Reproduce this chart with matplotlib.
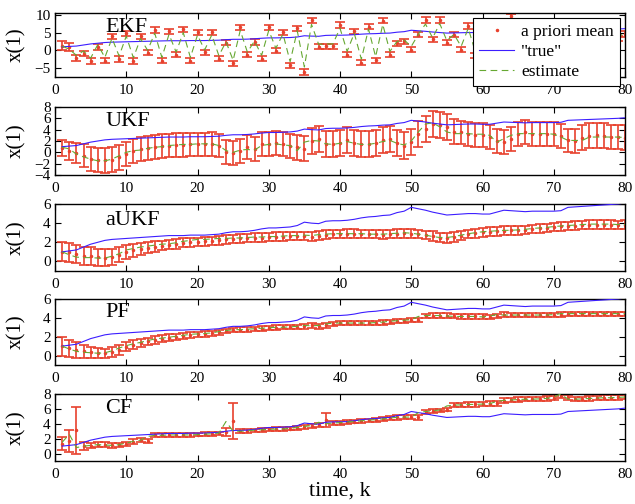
import numpy as np
import matplotlib
matplotlib.use('Agg')
import matplotlib.pyplot as plt
from matplotlib.lines import Line2D

plt.rcParams['font.family'] = ['Liberation Serif', 'DejaVu Serif']

RED = '#e8412d'
BLUE = '#3c1eff'
GREEN = '#66a832'

k = np.arange(1, 81)

# true state (same in every panel)
x_true = [1.0, 1.1, 1.2, 1.5, 1.8, 2.0, 2.2, 2.3, 2.35, 2.4,
          2.45, 2.5, 2.55, 2.6, 2.65, 2.7, 2.7, 2.7, 2.75, 2.75,
          2.75, 2.8, 2.85, 3.0, 3.1, 3.1, 3.15, 3.25, 3.4, 3.5,
          3.5, 3.55, 3.6, 3.75, 4.1, 4.0, 3.95, 4.2, 4.25, 4.25,
          4.3, 4.4, 4.55, 4.65, 4.7, 4.8, 4.85, 5.1, 5.25, 5.65,
          5.5, 5.35, 5.15, 5.0, 4.85, 4.9, 4.95, 5.0, 5.0, 4.95,
          4.95, 5.15, 5.35, 5.3, 5.25, 5.2, 5.25, 5.25, 5.25, 5.25,
          5.3, 5.65, 5.7, 5.75, 5.8, 5.85, 5.9, 5.95, 6.0, 6.1]

# EKF
ekf_mean = [1.3, 1.0, -2.1, -0.9, -3.0, 0.9, -2.9, 3.9, -2.4, 4.8,
            -3.0, 3.9, -0.7, 5.7, -2.9, 5.3, -1.2, 5.9, -2.9, 5.1,
            -0.6, 5.1, -2.3, 2.2, -3.7, 6.5, -1.2, 2.3, -2.3, 6.5,
            -0.1, 5.1, -4.2, 6.2, -6.1, 8.4, 1.0, 1.1, 1.1, 7.1,
            -1.2, 5.3, -3.5, 6.7, -2.8, 8.3, -1.2, 2.0, 2.5, 0.2,
            4.4, 8.5, 3.1, 8.5, 2.2, 4.4, 0.2, 6.8, -1.5, 7.2,
            0.5, 6.0, -2.0, 9.6, 1.5, 7.0, -0.5, 6.5, 2.0, 7.5,
            0.0, 8.0, 2.5, 6.5, 1.0, 7.5, 3.0, 4.4, 3.4, 4.6]
ekf_err = [1.3, 1.1, 0.8, 0.75, 0.75, 0.75, 0.75, 0.75, 0.75, 0.75,
           0.75, 0.75, 0.75, 0.75, 0.75, 0.75, 0.75, 0.75, 0.75, 0.75,
           0.75, 0.75, 0.75, 0.75, 0.75, 0.75, 0.75, 0.75, 0.75, 0.75,
           0.75, 0.75, 0.75, 0.75, 0.75, 0.75, 0.75, 0.75, 0.75, 0.75,
           0.75, 0.75, 0.75, 0.75, 0.75, 0.75, 0.75, 0.75, 0.75, 0.75,
           0.75, 0.75, 0.75, 0.75, 0.75, 0.75, 0.75, 0.75, 0.75, 0.75,
           0.75, 0.75, 0.75, 0.75, 0.75, 0.75, 0.75, 0.75, 0.75, 0.75,
           0.75, 0.75, 0.75, 0.75, 0.75, 0.75, 0.75, 0.75, 0.75, 0.75]
ekf_est = [1.2, 0.3, -1.4, -0.2, -2.2, 1.6, -2.0, 3.4, -1.6, 4.0,
           -2.1, 3.3, 0.0, 4.8, -2.0, 4.5, -0.5, 5.0, -2.0, 4.3,
           0.1, 4.3, -1.5, 2.4, -2.8, 5.6, -0.5, 2.6, -1.4, 5.6,
           0.6, 4.6, -3.2, 5.5, -4.7, 7.3, 1.7, 1.8, 1.8, 6.2,
           -0.3, 4.8, -2.5, 6.0, -1.8, 7.3, -0.3, 2.5, 2.9, 1.1,
           4.5, 7.4, 3.5, 7.5, 2.7, 4.5, 1.1, 6.2, -0.5, 6.6,
           1.3, 5.7, -1.0, 8.5, 2.2, 6.6, 0.5, 6.1, 2.7, 7.0,
           1.0, 7.3, 3.1, 6.2, 1.9, 7.0, 3.5, 4.6, 3.9, 4.8]

# UKF
ukf_mean = [0.8, 0.3, -0.1, -0.6, -1.2, -1.4, -1.4, -1.3, -0.9, -0.3,
            0.2, 0.6, 0.8, 1.0, 1.1, 1.2, 1.3, 1.3, 1.4, 1.4,
            1.4, 1.4, 1.2, 0.1, -0.1, 0.2, 0.9, 0.6, 1.4, 1.5,
            1.6, 1.4, 1.1, 0.9, 0.6, 2.0, 2.3, 1.5, 1.45, 1.7,
            2.1, 1.7, 1.4, 1.4, 1.6, 2.1, 2.4, 1.7, 1.2, 1.8,
            3.2, 4.1, 5.0, 4.8, 4.4, 3.6, 3.5, 3.2, 3.0, 3.0,
            2.7, 2.0, 1.8, 2.4, 3.3, 3.6, 3.3, 3.3, 3.3, 3.3,
            2.9, 2.1, 2.0, 2.6, 2.9, 3.0, 2.9, 2.7, 2.7, 2.6]
ukf_err = [1.4, 1.6, 1.8, 2.0, 2.1, 2.1, 2.2, 2.2, 2.2, 2.1,
           2.1, 2.1, 2.1, 2.1, 2.1, 2.05, 2.05, 2.05, 2.05, 2.05,
           2.05, 2.1, 2.1, 2.15, 2.15, 2.1, 2.1, 2.1, 2.1, 2.1,
           2.1, 2.1, 2.15, 2.2, 2.2, 2.3, 2.3, 2.3, 2.3, 2.3,
           2.3, 2.3, 2.3, 2.3, 2.3, 2.3, 2.3, 2.3, 2.3, 2.3,
           2.3, 2.3, 2.3, 2.3, 2.3, 2.2, 2.1, 2.1, 2.1, 2.1,
           2.1, 2.1, 2.1, 2.1, 2.1, 2.1, 2.1, 2.1, 2.1, 2.1,
           2.1, 2.1, 2.2, 2.2, 2.2, 2.2, 2.2, 2.2, 2.2, 2.2]
ukf_est = [0.9, 0.6, -0.3, -0.8, -1.2, -1.5, -1.5, -1.2, -0.6, 0.0,
           0.3, 0.4, 0.7, 0.9, 1.0, 1.2, 1.3, 1.4, 1.4, 1.5,
           1.5, 1.5, 1.2, 0.3, 0.0, 0.4, 0.5, 0.4, 1.2, 1.4,
           1.5, 1.3, 1.2, 0.3, 1.8, 2.1, 2.0, 1.5, 1.4, 1.6,
           1.9, 1.6, 1.4, 1.4, 1.6, 1.9, 2.1, 1.6, 1.3, 2.0,
           3.6, 5.0, 5.2, 4.5, 3.6, 3.3, 3.3, 3.3, 3.2, 3.2,
           3.0, 1.8, 2.4, 3.0, 3.3, 3.3, 3.3, 3.3, 3.3, 3.2,
           2.7, 2.1, 2.1, 2.1, 2.7, 2.7, 2.7, 2.7, 2.7, 2.6]

# aUKF
aukf_mean = [1.0, 0.95, 0.75, 0.6, 0.55, 0.45, 0.4, 0.45, 0.7, 1.0,
             1.15, 1.3, 1.45, 1.55, 1.65, 1.75, 1.85, 1.95, 2.0, 2.05,
             2.1, 2.15, 2.2, 2.3, 2.35, 2.4, 2.45, 2.5, 2.5, 2.55,
             2.6, 2.6, 2.65, 2.65, 2.65, 2.6, 2.7, 2.8, 2.85, 2.85,
             2.9, 2.9, 2.85, 2.85, 2.85, 2.8, 2.85, 2.9, 2.95, 2.9,
             2.85, 2.75, 2.65, 2.5, 2.45, 2.55, 2.7, 2.85, 2.95, 3.05,
             3.1, 3.15, 3.2, 3.25, 3.25, 3.3, 3.4, 3.45, 3.5, 3.6,
             3.65, 3.7, 3.75, 3.8, 3.85, 3.85, 3.85, 3.85, 3.8, 3.85]
aukf_err = [1.0, 1.0, 0.95, 0.95, 0.95, 0.9, 0.9, 0.85, 0.8, 0.7,
            0.65, 0.6, 0.55, 0.55, 0.5, 0.5, 0.5, 0.45, 0.45, 0.45,
            0.45, 0.45, 0.45, 0.45, 0.45, 0.45, 0.45, 0.45, 0.45, 0.45,
            0.45, 0.45, 0.45, 0.45, 0.45, 0.45, 0.45, 0.45, 0.45, 0.45,
            0.45, 0.45, 0.45, 0.45, 0.45, 0.45, 0.45, 0.45, 0.45, 0.45,
            0.45, 0.45, 0.5, 0.5, 0.5, 0.5, 0.45, 0.45, 0.45, 0.45,
            0.45, 0.45, 0.45, 0.45, 0.45, 0.45, 0.45, 0.45, 0.45, 0.45,
            0.45, 0.45, 0.45, 0.45, 0.45, 0.45, 0.45, 0.45, 0.45, 0.45]
aukf_est = [1.0, 0.7, 0.45, 0.4, 0.4, 0.35, 0.35, 0.55, 0.8, 1.2,
            1.35, 1.5, 1.6, 1.7, 1.8, 1.85, 1.95, 2.1, 2.2, 2.3,
            2.3, 2.35, 2.4, 2.4, 2.45, 2.45, 2.5, 2.55, 2.55, 2.6,
            2.6, 2.65, 2.7, 2.7, 2.75, 2.7, 2.8, 2.85, 2.9, 2.9,
            2.9, 2.9, 2.9, 2.85, 2.85, 2.85, 2.9, 2.95, 3.0, 2.95,
            2.85, 2.75, 2.6, 2.5, 2.5, 2.6, 2.75, 2.9, 3.0, 3.1,
            3.15, 3.2, 3.25, 3.25, 3.3, 3.35, 3.45, 3.5, 3.55, 3.65,
            3.7, 3.75, 3.8, 3.85, 3.9, 3.9, 3.9, 3.9, 3.85, 3.85]

# PF
pf_mean = [1.0, 0.8, 0.6, 0.45, 0.35, 0.3, 0.25, 0.4, 0.6, 0.95,
           1.15, 1.3, 1.5, 1.65, 1.8, 1.9, 2.0, 2.1, 2.2, 2.25,
           2.3, 2.35, 2.45, 2.6, 2.7, 2.75, 2.75, 2.8, 2.85, 2.9,
           2.95, 3.0, 3.0, 3.05, 3.1, 3.2, 3.1, 3.2, 3.35, 3.45,
           3.45, 3.45, 3.45, 3.45, 3.45, 3.5, 3.55, 3.65, 3.7, 3.75,
           3.8, 4.2, 4.25, 4.25, 4.25, 4.2, 4.15, 4.15, 4.15, 4.15,
           4.1, 4.2, 4.35, 4.3, 4.3, 4.3, 4.3, 4.3, 4.3, 4.3,
           4.35, 4.45, 4.45, 4.45, 4.45, 4.45, 4.45, 4.45, 4.45, 4.45]
pf_err = [1.0, 0.9, 0.85, 0.7, 0.6, 0.55, 0.5, 0.5, 0.5, 0.5,
          0.45, 0.42, 0.4, 0.38, 0.36, 0.34, 0.32, 0.3, 0.3, 0.28,
          0.28, 0.27, 0.26, 0.25, 0.25, 0.25, 0.24, 0.24, 0.24, 0.24,
          0.24, 0.23, 0.23, 0.23, 0.23, 0.23, 0.23, 0.23, 0.23, 0.23,
          0.23, 0.23, 0.23, 0.23, 0.23, 0.23, 0.23, 0.23, 0.23, 0.23,
          0.23, 0.23, 0.23, 0.23, 0.23, 0.23, 0.23, 0.23, 0.23, 0.23,
          0.22, 0.22, 0.22, 0.22, 0.22, 0.22, 0.22, 0.22, 0.22, 0.22,
          0.22, 0.22, 0.22, 0.22, 0.22, 0.22, 0.22, 0.22, 0.22, 0.22]
pf_est = [1.0, 0.7, 0.45, 0.35, 0.3, 0.25, 0.3, 0.5, 0.8, 1.05,
          1.25, 1.4, 1.6, 1.75, 1.85, 1.95, 2.05, 2.15, 2.25, 2.3,
          2.35, 2.4, 2.55, 2.65, 2.75, 2.75, 2.8, 2.85, 2.9, 2.95,
          3.0, 3.0, 3.05, 3.1, 3.2, 3.15, 3.2, 3.35, 3.45, 3.45,
          3.45, 3.45, 3.45, 3.45, 3.5, 3.55, 3.65, 3.7, 3.75, 3.8,
          4.15, 4.25, 4.25, 4.25, 4.2, 4.15, 4.15, 4.15, 4.15, 4.1,
          4.2, 4.35, 4.3, 4.3, 4.3, 4.3, 4.3, 4.3, 4.3, 4.35,
          4.45, 4.45, 4.45, 4.45, 4.45, 4.45, 4.45, 4.45, 4.45, 4.45]

# CF
cf_mean = [1.35, 1.7, 3.1, 1.0, 1.05, 1.2, 1.2, 1.1, 1.15, 1.3,
           1.6, 1.8, 1.7, 2.45, 2.45, 2.5, 2.5, 2.5, 2.5, 2.55,
           2.6, 2.65, 2.7, 2.9, 4.4, 3.0, 3.0, 3.1, 3.2, 3.25,
           3.3, 3.3, 3.35, 3.45, 3.6, 3.7, 3.8, 4.5, 4.1, 4.1,
           4.2, 4.3, 4.35, 4.45, 4.5, 4.6, 4.75, 4.85, 4.9, 4.9,
           4.85, 5.6, 5.7, 5.8, 5.9, 6.55, 6.55, 6.6, 6.6, 6.65,
           6.7, 6.75, 7.1, 7.2, 7.25, 7.3, 7.3, 7.35, 7.4, 7.45,
           7.7, 7.55, 7.3, 7.35, 7.4, 7.45, 7.5, 7.5, 7.55, 7.6]
cf_err = [0.9, 1.5, 3.2, 0.55, 0.35, 0.35, 0.3, 0.3, 0.3, 0.3,
          0.3, 0.3, 0.3, 0.25, 0.25, 0.25, 0.25, 0.25, 0.25, 0.25,
          0.25, 0.25, 0.25, 0.6, 2.4, 0.25, 0.25, 0.25, 0.25, 0.25,
          0.25, 0.25, 0.25, 0.25, 0.25, 0.25, 0.25, 0.9, 0.25, 0.25,
          0.25, 0.25, 0.25, 0.25, 0.25, 0.25, 0.3, 0.3, 0.3, 0.3,
          0.3, 0.25, 0.25, 0.25, 0.25, 0.3, 0.3, 0.3, 0.3, 0.3,
          0.3, 0.3, 0.3, 0.3, 0.3, 0.3, 0.3, 0.3, 0.3, 0.3,
          0.3, 0.3, 0.3, 0.3, 0.3, 0.3, 0.3, 0.3, 0.3, 0.3]
cf_est = [1.5, 2.6, 0.8, 1.0, 1.1, 1.2, 1.15, 1.1, 1.2, 1.4,
          1.65, 1.8, 2.3, 2.45, 2.45, 2.5, 2.5, 2.5, 2.5, 2.55,
          2.6, 2.65, 2.75, 4.3, 3.0, 3.0, 3.05, 3.15, 3.2, 3.25,
          3.3, 3.3, 3.4, 3.5, 3.65, 3.75, 4.2, 4.0, 4.1, 4.15,
          4.25, 4.3, 4.4, 4.5, 4.55, 4.65, 4.8, 4.85, 4.9, 4.9,
          5.5, 5.65, 5.75, 5.85, 6.4, 6.5, 6.55, 6.6, 6.6, 6.65,
          6.7, 7.0, 7.15, 7.2, 7.25, 7.3, 7.3, 7.35, 7.4, 7.6,
          8.0, 7.3, 7.3, 7.35, 7.4, 7.45, 7.5, 7.5, 7.55, 7.6]

names = ['EKF', 'UKF', 'aUKF', 'PF', 'CF']
means = [ekf_mean, ukf_mean, aukf_mean, pf_mean, cf_mean]
errs = [ekf_err, ukf_err, aukf_err, pf_err, cf_err]
ests = [ekf_est, ukf_est, aukf_est, pf_est, cf_est]
ylims = [(-7.5, 10.5), (-4, 8), (-1, 6), (-1, 6), (-1, 8)]
yticks = [[-5, 0, 5, 10], [-4, -2, 0, 2, 4, 6, 8], [0, 2, 4, 6], [0, 2, 4, 6], [0, 2, 4, 6, 8]]
title_y = [0.78, 0.78, 0.76, 0.8, 0.79]

# axes boxes in pixels (top, bottom) for a 635x504 figure
boxes = [(13, 77), (107, 175), (204, 271), (299, 365), (394, 461)]

fig = plt.figure(figsize=(6.35, 5.04), dpi=100)
W, H = 635.0, 504.0
axes = []
for i in range(5):
    top, bot = boxes[i]
    ax = fig.add_axes([55 / W, 1 - bot / H, 570 / W, (bot - top) / H])
    ax.errorbar(k, means[i], yerr=errs[i], fmt='.', color=RED, ms=3,
                elinewidth=1.2, capsize=3.6, capthick=1.2, zorder=2)
    ax.plot(k, x_true, color=BLUE, lw=0.8, zorder=3)
    ax.plot(k, ests[i], color=GREEN, lw=0.8, ls=(0, (6, 4)), zorder=4)
    ax.set_xlim(0, 80)
    ax.set_ylim(*ylims[i])
    ax.set_xticks(range(0, 81, 10))
    ax.set_yticks(yticks[i])
    ax.tick_params(direction='in', top=True, right=True, length=4, width=0.8,
                   labelsize=11)
    ax.tick_params(axis='x', pad=5)
    ax.tick_params(axis='y', pad=3)
    for s in ax.spines.values():
        s.set_linewidth(1.0)
    ax.set_ylabel('x(1)', fontsize=15)
    ax.yaxis.set_label_coords(-0.05, 0.5)
    ax.text(0.088, title_y[i], names[i], transform=ax.transAxes, fontsize=16,
            ha='left', va='center')
    axes.append(ax)

handles = [Line2D([], [], color=RED, marker='.', ms=3, ls='none'),
           Line2D([], [], color=BLUE, lw=0.8),
           Line2D([], [], color=GREEN, lw=0.8, ls=(0, (6, 4)))]
leg = axes[0].legend(handles, ['a priori mean', '"true"', 'estimate'],
                     loc='upper right', bbox_to_anchor=(0.991, 0.92),
                     fontsize=12.5, handlelength=2.0, labelspacing=0.2,
                     borderpad=0.35, handletextpad=0.4, borderaxespad=0,
                     fancybox=False, framealpha=1, edgecolor='black')
leg.get_frame().set_linewidth(0.8)
leg.set_zorder(10)

fig.text(340 / W, 1 - 491 / H, 'time, k', fontsize=16, ha='center', va='center')

fig.savefig('out.png', dpi=100)
